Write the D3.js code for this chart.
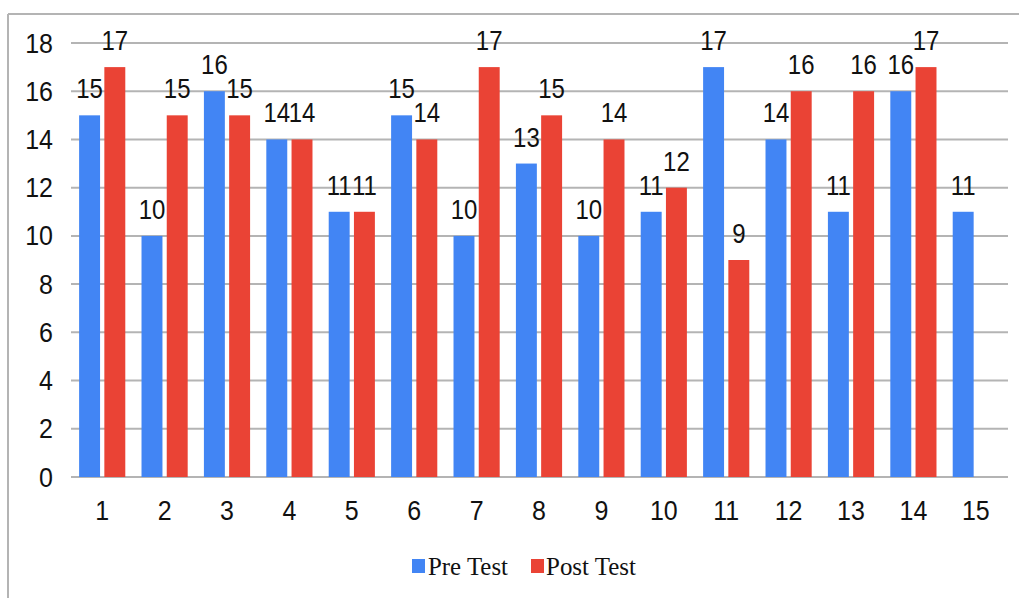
<!DOCTYPE html>
<html>
<head>
<meta charset="utf-8">
<script src="https://cdn.jsdelivr.net/npm/d3@7"></script>
<style>
  html, body { margin: 0; padding: 0; background: #fff; }
  svg { display: block; }
</style>
</head>
<body>
<svg id="chart" width="1019" height="598"></svg>
<script>
// Scores per student, before and after
const categories = ["1","2","3","4","5","6","7","8","9","10","11","12","13","14","15"];
const preTest  = [15,10,16,14,11,15,10,13,10,11,17,14,11,16,11];
const postTest = [17,15,15,14,11,14,17,15,14,12,9,16,16,17,null];
const seriesNames = ["Pre Test", "Post Test"];
const seriesColors = ["#4285f4", "#ea4335"];
const yTicks = [0,2,4,6,8,10,12,14,16,18];

const svg = d3.select("#chart");
const W = 1019, H = 598;
const plot = { left: 71, right: 1007, top: 43, bottom: 477 };

// frame: top and left edges
svg.append("line").attr("x1", 8).attr("x2", W).attr("y1", 14).attr("y2", 14)
  .attr("stroke", "#b4b4b4").attr("stroke-width", 2);
svg.append("line").attr("x1", 8).attr("x2", 8).attr("y1", 14).attr("y2", H)
  .attr("stroke", "#b4b4b4").attr("stroke-width", 2);

const x = d3.scaleBand().domain(categories).range([plot.left, plot.right])
  .paddingInner(0.26).paddingOuter(0.13);
const xs = d3.scaleBand().domain(seriesNames).range([0, x.bandwidth()]).paddingInner(0.17);
const y = d3.scaleLinear().domain([0, 18]).range([plot.bottom, plot.top]);

// horizontal gridlines
svg.append("g").selectAll("line").data(yTicks).join("line")
  .attr("x1", plot.left).attr("x2", plot.right + 1)
  .attr("y1", d => y(d)).attr("y2", d => y(d))
  .attr("stroke", "#b4b4b4").attr("stroke-width", 2);

// slightly tall sans text
const sans = "Liberation Sans, Arial, sans-serif";
function tallText(sel, px, py, size, sy) {
  return sel
    .attr("transform", d => `translate(${px(d)},${py(d)}) scale(1,${sy})`)
    .attr("font-family", sans)
    .attr("font-size", size).attr("fill", "#111");
}

// y tick labels
tallText(svg.append("g").selectAll("text").data(yTicks).join("text"),
  () => 53, d => y(d) + 9.5, 25, 1.08)
  .attr("text-anchor", "end")
  .text(d => d);

// x category labels
tallText(svg.append("g").selectAll("text").data(categories).join("text"),
  d => x(d) + x.bandwidth() / 2, () => 520, 25, 1.08)
  .attr("text-anchor", "middle")
  .text(d => d);

// bars and value labels
const rows = [];
categories.forEach((c, i) => {
  [preTest[i], postTest[i]].forEach((v, k) => {
    if (v != null) rows.push({ cat: c, series: seriesNames[k], color: seriesColors[k], value: v });
  });
});

svg.append("g").selectAll("rect").data(rows).join("rect")
  .attr("x", d => x(d.cat) + xs(d.series))
  .attr("width", xs.bandwidth())
  .attr("y", d => y(d.value))
  .attr("height", d => y(0) - y(d.value))
  .attr("fill", d => d.color);

tallText(svg.append("g").selectAll("text").data(rows).join("text"),
  d => x(d.cat) + xs(d.series) + xs.bandwidth() / 2, d => y(d.value) - 17, 24, 1.12)
  .attr("text-anchor", "middle")
  .text(d => d.value);

// legend
const legendItems = [
  { name: seriesNames[0], color: seriesColors[0], sx: 412, tx: 428, len: 80 },
  { name: seriesNames[1], color: seriesColors[1], sx: 531, tx: 546, len: 90 }
];
const lg = svg.append("g");
lg.selectAll("rect").data(legendItems).join("rect")
  .attr("x", d => d.sx).attr("y", 559).attr("width", 13).attr("height", 14)
  .attr("fill", d => d.color);
lg.selectAll("text").data(legendItems).join("text")
  .attr("x", d => d.tx).attr("y", 575)
  .attr("font-family", "Liberation Serif, 'Times New Roman', serif")
  .attr("font-size", 26).attr("fill", "#111")
  .attr("textLength", d => d.len).attr("lengthAdjust", "spacingAndGlyphs")
  .text(d => d.name);
</script>
</body>
</html>
